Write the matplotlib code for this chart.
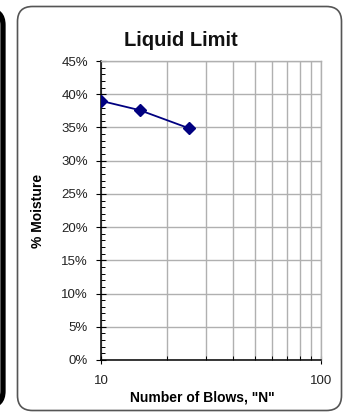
import matplotlib.pyplot as plt
from matplotlib.patches import FancyBboxPatch
from matplotlib.ticker import FixedLocator, MultipleLocator, PercentFormatter, NullFormatter

plt.rcParams['font.family'] = ['Liberation Sans', 'DejaVu Sans']

# blows and moisture content from the three trials
blows = [10, 15, 25]
moisture = [39.0, 37.6, 34.9]

x_ticks = [10, 100]
x_tick_labels = ['10', '100']
x_minor = [20, 30, 40, 50, 60, 70, 80, 90]

fig = plt.figure(figsize=(3.43, 4.13), dpi=100)
fig.patch.set_facecolor('white')

# rounded frame around the chart
frame = FancyBboxPatch((0.175 + 0.15, 0.025 + 0.15), 3.24 - 0.30, 4.04 - 0.30,
                       boxstyle='round,pad=0.15', transform=fig.dpi_scale_trans,
                       facecolor='none', edgecolor='#555555', lw=1.2)
fig.patches.append(frame)
# edge of the neighbouring panel
side = FancyBboxPatch((-1.0, 0.22), 0.88, 3.66,
                      boxstyle='round,pad=0.15', transform=fig.dpi_scale_trans,
                      facecolor='none', edgecolor='black', lw=3.8)
fig.patches.append(side)

ax = fig.add_axes([101 / 343, 1 - 360 / 413, 220 / 343, 299 / 413])
ax.set_xscale('log')
ax.set_xlim(10, 100)
ax.set_ylim(0, 45)

ax.plot(blows, moisture, color='#000080', lw=1.3, marker='D', ms=6,
        markerfacecolor='#000080', markeredgecolor='#000080', zorder=5)

ax.xaxis.set_major_locator(FixedLocator(x_ticks))
ax.set_xticklabels(x_tick_labels)
ax.xaxis.set_minor_locator(FixedLocator(x_minor))
ax.xaxis.set_minor_formatter(NullFormatter())
ax.yaxis.set_major_locator(MultipleLocator(5))
ax.yaxis.set_minor_locator(MultipleLocator(1))
ax.yaxis.set_major_formatter(PercentFormatter(decimals=0))

grid_col = '#b0b0b0'
ax.grid(True, which='major', axis='y', color=grid_col, lw=1.0)
ax.grid(True, which='both', axis='x', color=grid_col, lw=1.0)
ax.set_axisbelow(True)

for s in ['left', 'bottom']:
    ax.spines[s].set_linewidth(1.1)
    ax.spines[s].set_color('black')
for s in ['top', 'right']:
    ax.spines[s].set_linewidth(1.0)
    ax.spines[s].set_color(grid_col)

ax.tick_params(axis='y', which='major', direction='inout', length=6.5, width=0.8,
               labelsize=9.5, pad=6, colors='black', labelcolor='#222222')
ax.tick_params(axis='y', which='minor', direction='in', length=3, width=0.7)
ax.tick_params(axis='x', which='major', direction='inout', length=6, width=0.8,
               labelsize=9.5, pad=8, labelcolor='#222222')
ax.tick_params(axis='x', which='minor', direction='in', length=3, width=0.7)

ax.set_ylabel('% Moisture', fontsize=10, fontweight='bold')
ax.set_xlabel('Number of Blows, "N"', fontsize=10, fontweight='bold')
ax.yaxis.set_label_coords(-56.5 / 220, 0.5)
ax.xaxis.set_label_coords(0.46, -31 / 299)
fig.text(180.5 / 343, 1 - 40 / 413, 'Liquid Limit', fontsize=14.5, fontweight='bold',
         ha='center', va='center', color='#111111')

fig.savefig('out.png', dpi=100)
